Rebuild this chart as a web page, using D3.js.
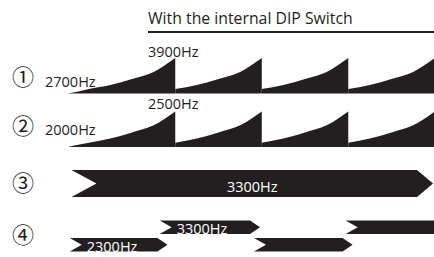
<!DOCTYPE html>
<html>
<head>
<meta charset="utf-8">
<script src="https://cdn.jsdelivr.net/npm/d3@7"></script>
<style>
  body { margin: 0; background: #fff; }
  svg { display: block; }
  text { font-family: "Open Sans", sans-serif; fill: #231f20; }
  .num { font-family: "Noto Sans CJK JP", sans-serif; }
</style>
</head>
<body>
<div id="chart"></div>
<script>
// patterns of the buzzer tone - time on x, frequency on y

var rowLabels = ['①', '②', '③', '④'];

// sweep segments (time, Hz) - pattern 1
var sweep1T = [[0, 12, 24, 49, 74, 99, 124], [124, 149, 174, 199, 224], [224, 249, 274, 299, 324], [324, 349, 374, 399, 424]];
var sweep1F = [[2700, 2770, 2850, 2990, 3190, 3430, 3900], [2850, 2990, 3190, 3430, 3900], [2850, 2990, 3190, 3430, 3900], [2850, 2990, 3190, 3430, 3900]];

// pattern 2
var sweep2T = sweep1T;
var sweep2F = [[2000, 2030, 2060, 2120, 2205, 2305, 2500], [2060, 2120, 2205, 2305, 2500], [2060, 2120, 2205, 2305, 2500], [2060, 2120, 2205, 2305, 2500]];

// pattern 3 - continuous tone
var tone3Start = [4];
var tone3End = [422];
var tone3F = [3300];

// pattern 4 - alternating tones
var tone4Start = [2, 106, 215, 321];
var tone4End = [115, 222, 329, 440];
var tone4F = [2300, 3300, 2300, 3300];

var width = 434, height = 257;
var ink = '#231f20';

var svg = d3.select('#chart')
  .append('svg')
  .attr('width', width)
  .attr('height', height);

var x = d3.scaleLinear().domain([0, 500]).range([68, 500.5]);
var y1 = d3.scaleLinear().domain([2700, 3900]).range([93.5, 58]);
var y2 = d3.scaleLinear().domain([2000, 2500]).range([147, 111.5]);
var y4 = d3.scaleLinear().domain([2300, 3300]).range([244.7, 227.3]);

// title + rule
svg.append('text')
  .attr('x', 148)
  .attr('y', 24)
  .style('font-size', '15.8px')
  .text('With the internal DIP Switch');

svg.append('line')
  .attr('x1', 148).attr('x2', width)
  .attr('y1', 32).attr('y2', 32)
  .attr('stroke', ink)
  .attr('stroke-width', 2);

// row numbers
var rowY = [85, 134, 191, 243];
svg.selectAll('text.num')
  .data(rowLabels)
  .enter()
  .append('text')
  .attr('class', 'num')
  .attr('x', 12)
  .attr('y', function(d, i) { return rowY[i]; })
  .style('font-size', '22px')
  .text(function(d) { return d; });

function drawSweep(T, F, ys) {
  var segs = T.map(function(ts, i) {
    return ts.map(function(t, j) { return {t: t, f: F[i][j]}; });
  });
  var area = d3.area()
    .curve(d3.curveMonotoneX)
    .x(function(d) { return x(d.t); })
    .y0(ys.range()[0])
    .y1(function(d) { return ys(d.f); });
  svg.append('g')
    .selectAll('path')
    .data(segs)
    .enter()
    .append('path')
    .attr('d', area)
    .attr('fill', ink);
}

drawSweep(sweep1T, sweep1F, y1);
drawSweep(sweep2T, sweep2F, y2);

// frequency labels for sweeps
function hz(v) { return v + 'Hz'; }
var fs = '14.5px';

svg.append('text').attr('x', 45).attr('y', 87).style('font-size', fs).text(hz(sweep1F[0][0]));
svg.append('text').attr('x', x(sweep1T[0][6]) - 2).attr('y', 57).attr('text-anchor', 'middle').style('font-size', fs).text(hz(sweep1F[0][6]));
svg.append('text').attr('x', 45).attr('y', 135).style('font-size', fs).text(hz(sweep2F[0][0]));
svg.append('text').attr('x', x(sweep2T[0][6]) - 2).attr('y', 109).attr('text-anchor', 'middle').style('font-size', fs).text(hz(sweep2F[0][6]));

// arrow-shaped tone bar
function barPath(x0, x1, yc, h, notch, tip) {
  var p = d3.path();
  p.moveTo(x0, yc - h / 2);
  p.lineTo(x1 - tip, yc - h / 2);
  p.lineTo(x1, yc);
  p.lineTo(x1 - tip, yc + h / 2);
  p.lineTo(x0, yc + h / 2);
  p.lineTo(x0 + notch, yc);
  p.closePath();
  return p.toString();
}

// pattern 3
svg.append('g')
  .selectAll('path')
  .data(tone3F)
  .enter()
  .append('path')
  .attr('d', function(d, i) { return barPath(x(tone3Start[i]), x(tone3End[i]), 183.5, 27, 25, 16); })
  .attr('fill', ink);

svg.append('text')
  .attr('x', (x(tone3Start[0]) + x(tone3End[0])) / 2)
  .attr('y', 192)
  .attr('text-anchor', 'middle')
  .style('font-size', fs)
  .style('fill', '#fff')
  .text(hz(tone3F[0]));

// pattern 4
svg.append('g')
  .selectAll('path')
  .data(tone4F)
  .enter()
  .append('path')
  .attr('d', function(d, i) { return barPath(x(tone4Start[i]), x(tone4End[i]), y4(d), 13.4, 12, 10); })
  .attr('fill', ink);

svg.append('g')
  .selectAll('text')
  .data(tone4F.slice(0, 2))
  .enter()
  .append('text')
  .attr('x', function(d, i) { return x(tone4Start[i]) + 17; })
  .attr('y', function(d) { return y4(d) + 7; })
  .style('font-size', fs)
  .style('fill', '#fff')
  .text(function(d) { return hz(d); });
</script>
</body>
</html>
